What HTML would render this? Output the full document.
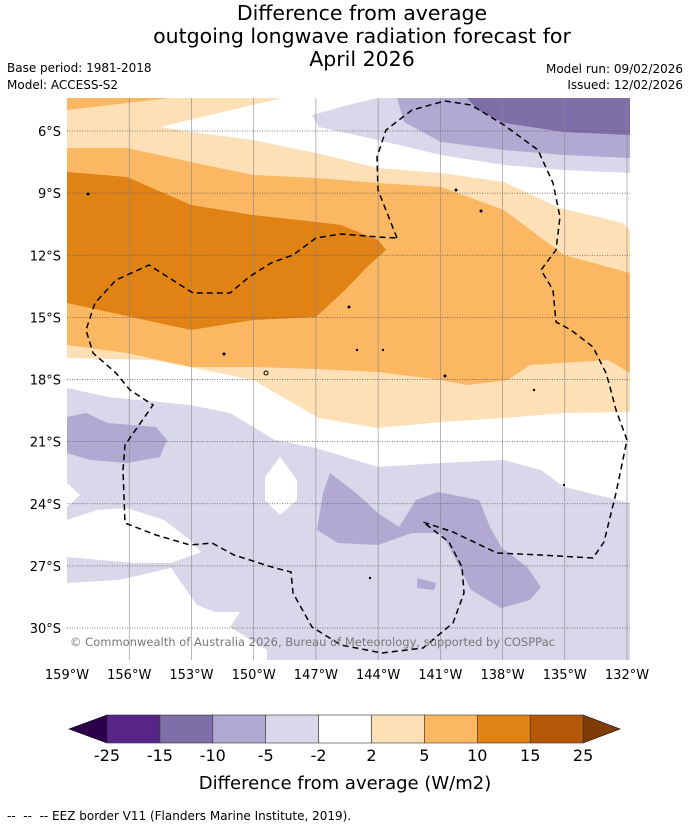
<!DOCTYPE html>
<html><head><meta charset="utf-8"><style>
body{margin:0;background:#fff;}
svg text{font-family:"DejaVu Sans","Liberation Sans",sans-serif;}
</style></head><body>
<svg id="root" width="690" height="827" viewBox="0 0 690 827" xmlns="http://www.w3.org/2000/svg">
<text x="362" y="20" font-size="20.5" text-anchor="middle">Difference from average</text>
<text x="362" y="43" font-size="20.5" text-anchor="middle">outgoing longwave radiation forecast for</text>
<text x="362" y="66" font-size="20.5" text-anchor="middle">April 2026</text>
<text x="7" y="72" font-size="12">Base period: 1981-2018</text>
<text x="7" y="89" font-size="12">Model: ACCESS-S2</text>
<text x="683" y="73" font-size="12" text-anchor="end">Model run: 09/02/2026</text>
<text x="683" y="89" font-size="12" text-anchor="end">Issued: 12/02/2026</text>

<g>
<clipPath id="mc"><rect x="67" y="98" width="563" height="562"/></clipPath>
<g clip-path="url(#mc)">
<rect x="67" y="98" width="563" height="562" fill="#fff"/>
<path fill="#fee0b6" d="M67,98 L282,98 L160,127 L191,132 L253,140 L316,153 L378,168 L441,173 L504,182 L560,208 L623,223 L630,230 L630,412 L564,413 L504,418 L441,422 L378,428 L319,418 L253,380 L190,367 L153,360 L67,358 Z"/>
<path fill="#fbb761" d="M67,148 L127,148 L191,162 L253,175 L316,178 L378,183 L441,187 L504,210 L564,255 L630,273 L630,373 L608,360 L530,365 L508,380 L467,385 L441,380 L378,372 L316,369 L253,367 L191,367 L127,353 L67,345 Z"/>
<path fill="#fbb761" d="M67,98 L170,98 L67,110 Z"/>
<path fill="#e08214" d="M67,172 L127,177 L191,205 L253,215 L316,222 L341,225 L378,240 L386,250 L367,267 L345,290 L316,317 L253,320 L191,330 L67,303 Z"/>
<path fill="#d8d8ea" d="M312,115 L356,103 L378,98 L630,98 L630,173 L564,170 L504,165 L441,155 L378,140 L319,127 Z"/>
<path fill="#b1a9d1" d="M397,98 L630,98 L630,158 L564,155 L504,150 L441,142 L404,122 Z"/>
<path fill="#7f6fa8" d="M467,98 L630,98 L630,135 L564,132 L504,123 L478,110 Z"/>
<path fill="#d8d8ea" d="M67,388 L108,397 L190,405 L230,413 L275,440 L316,448 L378,467 L441,463 L504,460 L541,470 L564,487 L630,503 L630,660 L67,660 Z"/>
<path fill="#fff" d="M67,520 L97,510 L127,508 L164,520 L190,540 L201,552 L171,563 L134,563 L67,557 Z"/>
<path fill="#fff" d="M67,583 L119,580 L171,568 L197,605 L215,612 L240,612 L230,627 L267,650 L267,660 L67,660 Z"/>
<path fill="#fff" d="M67,483 L80,495 L67,507 Z"/>
<path fill="#fff" d="M280,457 L297,480 L297,500 L280,515 L265,500 L265,477 Z"/>
<path fill="#b1a9d1" d="M67,417 L86,413 L108,423 L156,427 L167,440 L160,457 L127,463 L90,460 L67,453 Z"/>
<path fill="#b1a9d1" d="M330,473 L356,493 L378,513 L399,527 L416,500 L438,492 L479,500 L490,527 L501,547 L527,567 L541,587 L530,600 L501,608 L471,590 L456,560 L441,533 L412,533 L378,545 L338,543 L317,530 L323,493 Z"/>
<path fill="#b1a9d1" d="M417,578 L436,583 L434,590 L417,588 Z"/>
<g id="grid"></g>
<path fill="none" stroke="#000" stroke-width="1.5" stroke-dasharray="6,4" d="M397,238 L378,190 L377,157 L386,130 L412,110 L445,101 L471,105 L504,125 L538,150 L553,183 L560,217 L556,250 L541,270 L553,290 L556,322 L571,330 L593,347 L606,373 L610,387 L616,410 L627,440 L616,493 L604,542 L593,558 L541,555 L497,553 L453,532 L423,522 L449,542 L462,567 L464,593 L453,623 L423,648 L382,653 L341,645 L312,627 L293,593 L291,572 L275,568 L234,555 L212,543 L190,545 L156,535 L125,523 L123,470 L125,445 L153,405 L130,390 L116,373 L93,353 L86,330 L95,303 L116,280 L149,265 L193,293 L230,293 L249,277 L271,263 L293,255 L316,238 L341,234 L378,237 L397,238"/>
<g fill="#000">
<circle cx="88" cy="194" r="1.5"/><circle cx="349" cy="307" r="1.5"/><circle cx="456" cy="190" r="1.5"/><circle cx="481" cy="211" r="1.5"/><circle cx="224" cy="354" r="1.5"/><circle cx="266" cy="373" r="2" fill="none" stroke="#000"/><circle cx="357" cy="350" r="1.2"/><circle cx="383" cy="350" r="1.2"/><circle cx="445" cy="376" r="1.5"/><circle cx="534" cy="390" r="1.2"/><circle cx="564" cy="485" r="1.2"/><circle cx="370" cy="578" r="1.2"/>
</g>
</g>
<text x="70" y="646" font-size="11.5" fill="#777" textLength="485">© Commonwealth of Australia 2026, Bureau of Meteorology, supported by COSPPac</text>
<g id="axes"></g>
</g>

<g id="cbar"></g>
<text x="345" y="789" font-size="18" text-anchor="middle">Difference from average (W/m2)</text>
<text x="7" y="820" font-size="12" xml:space="preserve">--  --  -- EEZ border V11 (Flanders Marine Institute, 2019).</text>
</svg>
<script>
const lonTicks = [-159,-156,-153,-150,-147,-144,-141,-138,-135,-132];
const lonLabels = ["159°W","156°W","153°W","150°W","147°W","144°W","141°W","138°W","135°W","132°W"];
const latTicks = [-6,-9,-12,-15,-18,-21,-24,-27,-30];
const latLabels = ["6°S","9°S","12°S","15°S","18°S","21°S","24°S","27°S","30°S"];
const levels = [-25,-15,-10,-5,-2,2,5,10,15,25];
const levelColors = ["#562587","#7f6fa8","#b1a9d1","#d8d8ea","#ffffff","#fee0b6","#fbb761","#e08214","#b35806"];
const NS="http://www.w3.org/2000/svg";
function xLon(l){return 67+(l+159)*(560/27);}
function yLat(l){return 131+(-6-l)*(497/24);}
function mk(tag,attrs,parent){const e=document.createElementNS(NS,tag);for(const k in attrs)e.setAttribute(k,attrs[k]);parent.appendChild(e);return e;}
const grid=document.getElementById('grid'), axes=document.getElementById('axes');
lonTicks.forEach((v,i)=>{
  const gx=xLon(v);
  if(i>0){
    const l=mk('line',{x1:gx,x2:gx,y1:98,y2:660,stroke:'#888','stroke-width':0.6},grid);
    
    
  }
  const t=mk('text',{x:gx,y:679,'font-size':13,'text-anchor':'middle'},axes);
  t.textContent=lonLabels[i];
  
  
});
latTicks.forEach((v,i)=>{
  const yy=yLat(v);
  const l=mk('line',{x1:67,x2:630,y1:yy,y2:yy,stroke:'#555','stroke-width':0.7,'stroke-dasharray':'1,1.5'},grid);
  
  
  const t=mk('text',{x:61,y:yy+5,'font-size':13,'text-anchor':'end'},axes);
  t.textContent=latLabels[i];
  
  
});
const cb=document.getElementById('cbar');
const cx0=107,cw=52.9,cy0=715,ch=28;
const lt=mk('polygon',{points:`69,${cy0+ch/2} ${cx0},${cy0} ${cx0},${cy0+ch}`,fill:'#2d004b',stroke:'#000','stroke-width':0.6},cb);


const rx=cx0+cw*(levels.length-1);
const rt=mk('polygon',{points:`${rx},${cy0} 620,${cy0+ch/2} ${rx},${cy0+ch}`,fill:'#7f3b08',stroke:'#000','stroke-width':0.6},cb);


levelColors.forEach((c,i)=>{
  const r=mk('rect',{x:cx0+cw*i,y:cy0,width:cw,height:ch,fill:c,stroke:'#333','stroke-width':0.6},cb);
  
  
});
levels.forEach((v,i)=>{
  const t=mk('text',{x:cx0+cw*i,y:761,'font-size':16,'text-anchor':'middle'},cb);
  t.textContent=String(v);
  
  
});
</script>
</body></html>
